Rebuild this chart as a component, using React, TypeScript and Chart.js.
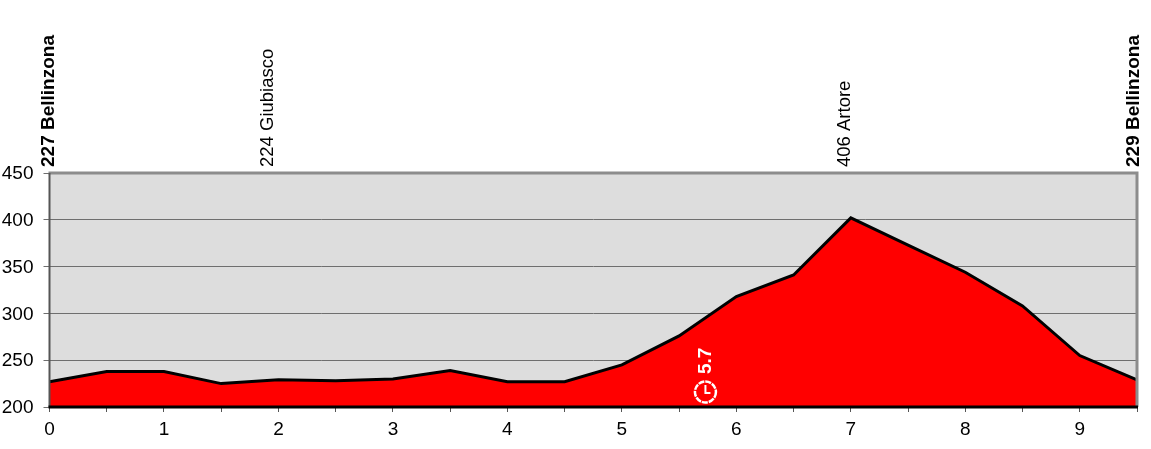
import React, { useEffect, useRef } from "react";
import { Chart, registerables } from "chart.js";

Chart.register(...registerables);

const FONT = '"Liberation Sans", Arial, sans-serif';

const distanceKm = [0, 0.5, 1, 1.5, 2, 2.5, 3, 3.5, 4, 4.5, 5, 5.5, 6, 6.5, 7, 7.5, 8, 8.5, 9, 9.5];
const altitudeM = [227, 238, 238, 225, 229, 228, 230, 239, 227, 227, 245, 276, 318, 341, 402, 373, 344, 308, 255, 229];

const placeKm = [0, 1.9, 6.95, 9.5];
const placeNames = ["227 Bellinzona", "224 Giubiasco", "406 Artore", "229 Bellinzona"];
const placeBold = [true, false, false, true];
const placeTextOffset = [-1, 1, 0, -3];

const timeCheckKm = 5.73;
const timeCheckLabel = "5.7";
const timeCheckAltitude = 216;

const profilePlugin = {
  id: "profile",
  beforeDraw(chart: any) {
    const { ctx, chartArea: a } = chart;
    ctx.save();
    ctx.fillStyle = "#dddddd";
    ctx.fillRect(a.left, a.top, a.right - a.left, a.bottom - a.top);
    ctx.restore();
  },
  afterDatasetsDraw(chart: any) {
    const { ctx, chartArea: a, scales } = chart;
    ctx.save();
    // plot frame
    ctx.strokeStyle = "#8c8c8c";
    ctx.lineWidth = 3;
    ctx.beginPath();
    ctx.moveTo(a.left - 1, a.top);
    ctx.lineTo(a.right, a.top);
    ctx.lineTo(a.right, a.bottom);
    ctx.stroke();
    ctx.strokeStyle = "#555555";
    ctx.lineWidth = 2;
    ctx.beginPath();
    ctx.moveTo(a.left, a.top);
    ctx.lineTo(a.left, a.bottom);
    ctx.stroke();
    ctx.strokeStyle = "#000000";
    ctx.lineWidth = 3;
    ctx.beginPath();
    ctx.moveTo(a.left - 1, a.bottom);
    ctx.lineTo(a.right + 1, a.bottom);
    ctx.stroke();

    // place labels above the plot
    ctx.fillStyle = "#000000";
    ctx.textAlign = "left";
    ctx.textBaseline = "middle";
    placeNames.forEach((name, i) => {
      const x = scales.x.getPixelForValue(placeKm[i]) + placeTextOffset[i];
      ctx.save();
      ctx.translate(x, a.top - 6);
      ctx.rotate(-Math.PI / 2);
      ctx.font = `${placeBold[i] ? "bold " : ""}${placeBold[i] ? 19 : 18.5}px ${FONT}`;
      ctx.fillText(name, 0, 0);
      ctx.restore();
    });

    // time check marker
    const cx = scales.x.getPixelForValue(timeCheckKm);
    const cy = scales.y.getPixelForValue(timeCheckAltitude);
    ctx.strokeStyle = "#ffffff";
    ctx.fillStyle = "#ffffff";
    ctx.lineWidth = 2.5;
    ctx.setLineDash([6, 1]);
    ctx.beginPath();
    ctx.arc(cx, cy, 10.5, 0, Math.PI * 2);
    ctx.stroke();
    ctx.setLineDash([]);
    ctx.lineWidth = 2;
    ctx.beginPath();
    ctx.moveTo(cx, cy - 7);
    ctx.lineTo(cx, cy + 1);
    ctx.lineTo(cx + 5, cy + 1);
    ctx.stroke();
    ctx.save();
    ctx.translate(cx, cy - 18);
    ctx.rotate(-Math.PI / 2);
    ctx.font = `bold 19px ${FONT}`;
    ctx.textAlign = "left";
    ctx.textBaseline = "middle";
    ctx.fillText(timeCheckLabel, 0, 0);
    ctx.restore();
    ctx.restore();
  },
};

export default function App() {
  const ref = useRef<HTMLCanvasElement>(null);
  useEffect(() => {
    const chart = new Chart(ref.current as HTMLCanvasElement, {
      type: "line",
      data: {
        datasets: [
          {
            data: distanceKm.map((x, i) => ({ x, y: altitudeM[i] })),
            borderColor: "#000000",
            borderWidth: 3,
            backgroundColor: "#ff0000",
            fill: "start",
            pointRadius: 0,
            tension: 0,
            clip: false,
          },
        ],
      },
      options: {
        animation: false,
        responsive: false,
        events: [],
        layout: { padding: { top: 173, right: 14, left: 0, bottom: 0 } },
        plugins: { legend: { display: false }, tooltip: { enabled: false }, title: { display: false } },
        scales: {
          x: {
            type: "linear",
            min: 0,
            max: 9.5,
            afterFit: (s: any) => { s.height = 42; },
            grid: { display: true, drawOnChartArea: false, drawTicks: true, tickLength: 5, color: "#555555" },
            border: { display: false },
            ticks: {
              stepSize: 0.5,
              autoSkip: false,
              maxRotation: 0,
              includeBounds: false,
              padding: 6,
              color: "#000000",
              font: { family: FONT, size: 19 },
              callback: (v: any) => (Number.isInteger(v) ? String(v) : ""),
            },
          },
          y: {
            type: "linear",
            min: 200,
            max: 450,
            afterFit: (s: any) => { s.width = 49.5; },
            grid: { color: "#6e6e6e", lineWidth: 1, tickLength: 6 },
            border: { display: false },
            ticks: {
              stepSize: 50,
              padding: 10,
              labelOffset: 1,
              color: "#000000",
              font: { family: FONT, size: 19 },
            },
          },
        },
      },
      plugins: [profilePlugin],
    } as any);
    return () => chart.destroy();
  }, []);
  return (
    <canvas
      ref={ref}
      width={1151}
      height={449}
      style={{ position: "fixed", left: 0, top: 0, width: 1151, height: 449, background: "#ffffff" }}
    />
  );
}
